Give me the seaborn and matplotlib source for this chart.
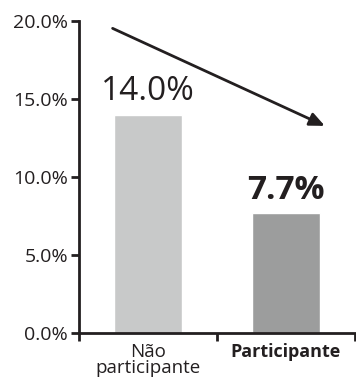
import pandas as pd
import seaborn as sns
import matplotlib.pyplot as plt
from matplotlib.ticker import FixedLocator, PercentFormatter

# dados do gráfico
categorias = ["Não\nparticipante", "Participante"]
valores = [14.0, 7.7]
cores = ["#c8c9c9", "#9c9d9d"]
rotulos_y = [0, 5, 10, 15, 20]

df = pd.DataFrame({"grupo": categorias, "taxa": valores})

sns.set_style("white")
plt.rcParams['font.family'] = ['Open Sans', 'DejaVu Sans']
escuro = "#231f20"

fig = plt.figure(figsize=(3.56, 3.81), dpi=100)
ax = fig.add_axes([0.222, 0.126, 0.775, 0.819])

sns.barplot(data=df, x="grupo", y="taxa", hue="grupo", palette=cores,
            width=0.49, legend=False, ax=ax, saturation=1)

ax.set_xlim(-0.5, 1.5)
ax.set_ylim(0, 20)
ax.set_yticks(rotulos_y)
ax.yaxis.set_major_formatter(PercentFormatter(decimals=1))
ax.set_xlabel("")
ax.set_ylabel("")

# ticks do eixo x entre as categorias
ax.xaxis.set_minor_locator(FixedLocator([-0.5, 0.5, 1.5]))
ax.tick_params(axis="x", which="major", bottom=True, length=0, labelsize=13.5,
               colors=escuro, pad=7)
ax.tick_params(axis="x", which="minor", bottom=True, length=6, width=2,
               color=escuro, direction="out")
ax.tick_params(axis="y", left=True, length=6, width=2, color=escuro, direction="out",
               labelsize=14, labelcolor=escuro, pad=2)
ax.set_xticks([0, 1])
ax.set_xticklabels(categorias, linespacing=0.9)
ax.get_xticklabels()[1].set_fontweight("bold")
ax.get_xticklabels()[1].set_fontsize(13)

sns.despine(ax=ax)
for lado in ["left", "bottom"]:
    ax.spines[lado].set_linewidth(2)
    ax.spines[lado].set_color(escuro)

# rótulos de valor
for i, v in enumerate(valores):
    ax.text(i, v + 0.4, f"{v:.1f}%", ha="center", va="bottom", fontsize=24,
            color=escuro, fontweight="bold" if i == 1 else "normal")

# seta de tendência
ax.annotate("", xy=(1.3, 13.2), xytext=(-0.275, 19.6),
            arrowprops=dict(arrowstyle="-|>,head_length=0.9,head_width=0.4",
                            color=escuro, lw=2))

plt.savefig("out.png", dpi=100)
